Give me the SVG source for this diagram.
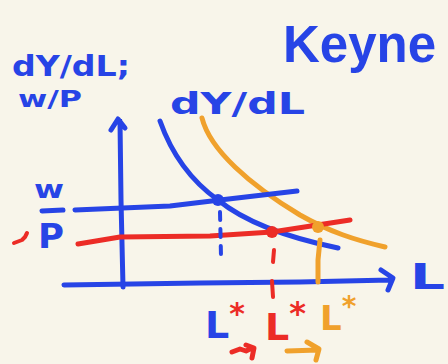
<svg xmlns="http://www.w3.org/2000/svg" width="448" height="364" viewBox="0 0 448 364">
<style>
.bg{fill:#f8f5ea}
.s{fill:none;stroke-linecap:round;stroke-linejoin:round}
.b{stroke:#2744e6}
.r{stroke:#ec2c26}
.o{stroke:#f0a12c}
.t{font-family:"DejaVu Sans","Liberation Sans",sans-serif;font-weight:bold}
.tb{fill:#2744e6}
.tr{fill:#ec2c26}
.to{fill:#f0a12c}
</style>
<rect class="bg" x="0" y="0" width="448" height="364"/>
<g id="title"><text class="tb" x="283" y="62" font-family="'Liberation Sans',Arial,sans-serif" font-weight="bold" font-size="51">Keyne</text></g>
<g id="ylabel">
<text class="t tb" x="12" y="76" font-size="29" textLength="118" lengthAdjust="spacingAndGlyphs">dY/dL;</text>
<text class="t tb" x="18" y="107" font-size="23" textLength="64" lengthAdjust="spacingAndGlyphs">w/P</text>
</g>
<g id="curvelabel"><text class="t tb" x="170" y="114" font-size="30" textLength="135" lengthAdjust="spacingAndGlyphs">dY/dL</text></g>
<g id="wp-label">
<text class="t tb" x="34" y="198" font-size="24" textLength="30" lengthAdjust="spacingAndGlyphs">w</text>
<path class="s b" stroke-width="5" d="M42 211 L63 210"/>
<text class="t tb" x="38" y="248" font-size="34" textLength="26" lengthAdjust="spacingAndGlyphs">P</text>
<path class="s r" stroke-width="4" d="M14 243 L22 240 L25 237 L27 233"/>
</g>
<g id="connectors">
<path id="y-axis" class="s b" stroke-width="5" d="M120 121 L121 200 L123 287 M111 130 L118 119 L125 128"/>
<path id="x-axis" class="s b" stroke-width="5" d="M64 285 L200 283 L300 282 L390 280 M381 270 L393 278 L388 290"/>
</g>
<g id="mpl-blue"><path class="s b" stroke-width="5" d="M160 121 C172 155 190 180 218 200 C245 222 285 237 338 248"/></g>
<g id="mpl-orange"><path class="s o" stroke-width="5" d="M202 118 C210 150 250 185 300 215 C330 232 355 240 385 247"/></g>
<g id="wage-blue"><path class="s b" stroke-width="5" d="M75 210 L170 206 L220 200 L297 191"/></g>
<g id="wage-red"><path class="s r" stroke-width="5" d="M78 244 L120 237 L210 236 L272 232 L350 220"/></g>
<g id="eq-blue">
<circle cx="218" cy="200" r="6" fill="#2744e6"/>
<path class="s b" stroke-width="4" stroke-dasharray="8 9" d="M220 212 L221 256"/>
</g>
<g id="eq-red">
<circle cx="272" cy="232" r="6" fill="#ec2c26"/>
<path class="s r" stroke-width="4" d="M274 250 L273 262 M272 281 L273 297"/>
</g>
<g id="eq-orange">
<circle cx="318" cy="227" r="6" fill="#f0a12c"/>
<path class="s o" stroke-width="5" d="M320 240 L318 260 L318 282"/>
</g>
<g id="xlabel"><text class="t tb" x="410" y="289" font-size="36" textLength="35" lengthAdjust="spacingAndGlyphs">L</text></g>
<g id="lstar-1"><text class="t tb" x="205" y="338" font-size="38">L<tspan class="tr" dy="-14" font-size="30">*</tspan></text></g>
<g id="lstar-2"><text class="t tr" x="265" y="340" font-size="38">L<tspan dy="-16" font-size="32">*</tspan></text></g>
<g id="lstar-3"><text class="t to" x="320" y="330" font-size="34">L<tspan dy="-14" font-size="28">*</tspan></text></g>
<g id="shift-arrows">
<path class="s r" stroke-width="5" d="M232 352 L240 349 L246 351 L250 349 M246 345 L254 348 L252 358"/>
<path class="s o" stroke-width="5" d="M287 351 L318 350 M307 342 L319 349 L316 360"/>
</g>
</svg>
